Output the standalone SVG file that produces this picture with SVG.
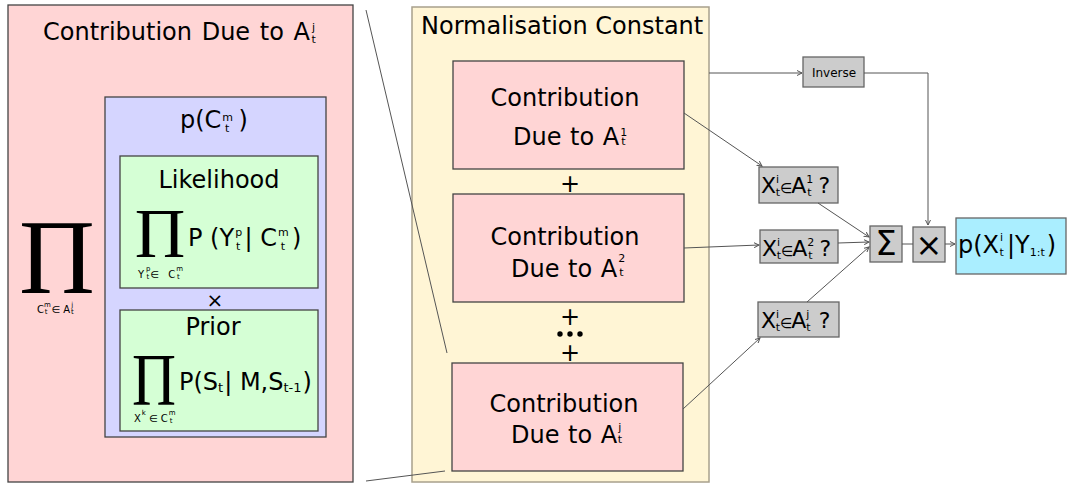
<svg xmlns="http://www.w3.org/2000/svg" width="1068" height="485" viewBox="0 0 1068 485">
<style>
text{font-family:"DejaVu Sans",Verdana,sans-serif;fill:#000}
.pink{fill:#ffd5d5;stroke:#444;stroke-width:1.3}
.blue{fill:#d5d5ff;stroke:#444;stroke-width:1.3}
.green{fill:#d5ffd5;stroke:#444;stroke-width:1.3}
.norm{fill:#fff5d5;stroke:#a8a08c;stroke-width:1.5}
.grey{fill:#cccccc;stroke:#666;stroke-width:1.3}
.res{fill:#aaeeff;stroke:#666;stroke-width:1.3}
.t24{font-size:24px}
.t22{font-size:22px}
.s11{font-size:11px}
.s7{font-size:7px}
.s10{font-size:10px}
.pi{font-family:"Liberation Serif","Times New Roman",serif;text-anchor:middle}
.c{text-anchor:middle}
.ln{fill:none;stroke:#555;stroke-width:1}
</style>
<defs>
<marker id="ah" markerWidth="6" markerHeight="6" refX="5" refY="3" orient="auto" markerUnits="userSpaceOnUse">
<path d="M0,0.5 L5,3 L0,5.5" fill="none" stroke="#555" stroke-width="1"/>
</marker>
</defs>

<g id="contribution-detail">
<rect class="pink" x="8" y="5" width="345" height="477"/>
<text class="t24" x="43" y="40" word-spacing="2">Contribution Due to A<tspan class="s11" dx="2" dy="-9">j</tspan><tspan class="s11" dx="-3.5" dy="12">t</tspan></text>
<text class="pi" x="57" y="293" font-size="105">Π</text>
<text class="s10" x="37" y="313">C<tspan class="s7" dy="-6">m</tspan><tspan class="s7" dx="-6" dy="7">t</tspan><tspan dx="4" dy="-1">∈</tspan><tspan dx="3">A</tspan><tspan class="s7" dx="1" dy="-6">j</tspan><tspan class="s7" dx="-2" dy="7">t</tspan></text>
</g>

<g id="p-cluster">
<rect class="blue" x="105" y="97" width="221" height="340"/>
<text class="t24" x="180" y="128">p(C<tspan class="s11" dx="1" dy="-7">m</tspan><tspan class="s11" dx="-8" dy="11">t</tspan><tspan dx="9" dy="-4">)</tspan></text>
<text class="c" x="215" y="307" font-size="20">×</text>
</g>

<g id="likelihood">
<rect class="green" x="120" y="156" width="198" height="132"/>
<text class="t24 c" x="219" y="188">Likelihood</text>
<text class="pi" x="160" y="257" font-size="70">Π</text>
<text class="t24" x="188" y="246">P (Y<tspan class="s11" dx="1" dy="-10">p</tspan><tspan class="s11" dx="-6" dy="14">t</tspan><tspan dx="4" dy="-4">| C</tspan><tspan class="s11" dx="1" dy="-10">m</tspan><tspan class="s11" dx="-8" dy="14">t</tspan><tspan dx="7" dy="-4">)</tspan></text>
<text class="s10" x="138" y="278">Y<tspan class="s7" dx="2" dy="-7">p</tspan><tspan class="s7" dx="-4" dy="8">t</tspan><tspan dx="1" dy="-1">∈ </tspan><tspan dx="6">C</tspan><tspan class="s7" dx="1" dy="-7">m</tspan><tspan class="s7" dx="-6" dy="8">t</tspan></text>
</g>

<g id="prior">
<rect class="green" x="120" y="310" width="198" height="121"/>
<text class="t24 c" x="213" y="335">Prior</text>
<text class="pi" x="154" y="405" font-size="74" textLength="44" lengthAdjust="spacingAndGlyphs">Π</text>
<text class="t24" x="179" y="390">P(S<tspan font-size="13" dy="2">t</tspan><tspan dx="1" dy="-2">| M,S</tspan><tspan font-size="13" dy="2">t-1</tspan><tspan dx="1" dy="-2">)</tspan></text>
<text class="s10" x="134" y="422">X<tspan class="s7" dx="1" dy="-7">k</tspan><tspan dx="3" dy="7">∈ C</tspan><tspan class="s7" dx="1" dy="-7">m</tspan><tspan class="s7" dx="-6" dy="8">t</tspan></text>
</g>

<g id="normalisation">
<rect class="norm" x="412" y="7" width="297" height="475"/>
<text class="t24" x="421" y="34">Normalisation Constant</text>
<text class="c" x="570" y="192" font-size="24">+</text>
<text class="c" x="570" y="325" font-size="24">+</text>
<circle cx="560" cy="334" r="2.7"/><circle cx="570" cy="334" r="2.7"/><circle cx="580" cy="334" r="2.7"/>
<text class="c" x="570" y="361" font-size="24">+</text>
</g>

<g id="contrib-1">
<rect class="pink" x="453" y="61" width="231" height="108"/>
<text class="t24 c" x="565" y="106">Contribution</text>
<text class="t24" x="513" y="145" word-spacing="1">Due to A<tspan class="s11" dx="1" dy="-9">1</tspan><tspan class="s11" dx="-6" dy="9">t</tspan></text>
</g>

<g id="contrib-2">
<rect class="pink" x="453" y="194" width="231" height="108"/>
<text class="t24 c" x="565" y="245">Contribution</text>
<text class="t24" x="511" y="277" word-spacing="1">Due to A<tspan class="s11" dx="1" dy="-15">2</tspan><tspan class="s11" dx="-6" dy="14">t</tspan></text>
</g>

<g id="contrib-j">
<rect class="pink" x="452" y="363" width="231" height="108"/>
<text class="t24 c" x="564" y="412">Contribution</text>
<text class="t24" x="511" y="443" word-spacing="1">Due to A<tspan class="s11" dx="1" dy="-12">j</tspan><tspan class="s11" dx="-3.5" dy="12">t</tspan></text>
</g>

<g id="inverse">
<rect class="grey" x="803" y="57" width="61" height="30"/>
<text class="c" x="834" y="77" font-size="12">Inverse</text>
</g>

<g id="test-1">
<rect class="grey" x="759" y="167" width="79" height="36"/>
<text class="t22" x="761" y="193">X<tspan class="s11" dy="-10">i</tspan><tspan class="s11" dx="-3.5" dy="13">t</tspan><tspan font-size="14" dy="-3">∈</tspan><tspan dx="-1">A</tspan><tspan class="s11" dy="-10">1</tspan><tspan class="s11" dx="-6" dy="13">t</tspan><tspan dx="7" dy="-3">?</tspan></text>
</g>

<g id="test-2">
<rect class="grey" x="760" y="230" width="78" height="33"/>
<text class="t22" x="762" y="256">X<tspan class="s11" dy="-10">i</tspan><tspan class="s11" dx="-3.5" dy="13">t</tspan><tspan font-size="14" dy="-3">∈</tspan><tspan dx="-1">A</tspan><tspan class="s11" dy="-10">2</tspan><tspan class="s11" dx="-6" dy="13">t</tspan><tspan dx="7" dy="-3">?</tspan></text>
</g>

<g id="test-j">
<rect class="grey" x="758" y="302" width="81" height="35"/>
<text class="t22" x="761" y="328">X<tspan class="s11" dy="-10">i</tspan><tspan class="s11" dx="-3.5" dy="13">t</tspan><tspan font-size="14" dy="-3">∈</tspan><tspan dx="-1">A</tspan><tspan class="s11" dy="-10">j</tspan><tspan class="s11" dx="-3" dy="13">t</tspan><tspan dx="8" dy="-3">?</tspan></text>
</g>

<g id="sum">
<rect class="grey" x="870" y="226" width="32" height="36"/>
<text class="c" x="886" y="255" font-size="34">Σ</text>
</g>

<g id="times">
<rect class="grey" x="913" y="227" width="32" height="35"/>
<text class="c" x="929" y="256" font-size="32">×</text>
</g>

<g id="result">
<rect class="res" x="956" y="218" width="110" height="56"/>
<text font-size="24" x="958" y="253">p(X<tspan class="s11" dx="1" dy="-12">i</tspan><tspan class="s11" dx="-3.5" dy="15">t</tspan><tspan dx="3" dy="-3">|Y</tspan><tspan font-size="11" dy="3">1:t</tspan><tspan dx="2" dy="-3">)</tspan></text>
</g>

<g id="connectors">
<line class="ln" x1="366" y1="10" x2="447" y2="353"/>
<line class="ln" x1="366" y1="481" x2="445" y2="471"/>
<line class="ln" x1="709" y1="73" x2="802" y2="73" marker-end="url(#ah)"/>
<polyline class="ln" points="864,73 928,73 928,225" marker-end="url(#ah)"/>
<line class="ln" x1="684" y1="113" x2="762" y2="166" marker-end="url(#ah)"/>
<line class="ln" x1="684" y1="248" x2="759" y2="245" marker-end="url(#ah)"/>
<line class="ln" x1="683" y1="409" x2="760" y2="338" marker-end="url(#ah)"/>
<line class="ln" x1="818" y1="203" x2="869" y2="237" marker-end="url(#ah)"/>
<line class="ln" x1="838" y1="243" x2="869" y2="242" marker-end="url(#ah)"/>
<line class="ln" x1="807" y1="302" x2="869" y2="247" marker-end="url(#ah)"/>
<line class="ln" x1="902" y1="244" x2="913" y2="244"/>
<line class="ln" x1="945" y1="244" x2="955" y2="244" marker-end="url(#ah)"/>
</g>
</svg>
